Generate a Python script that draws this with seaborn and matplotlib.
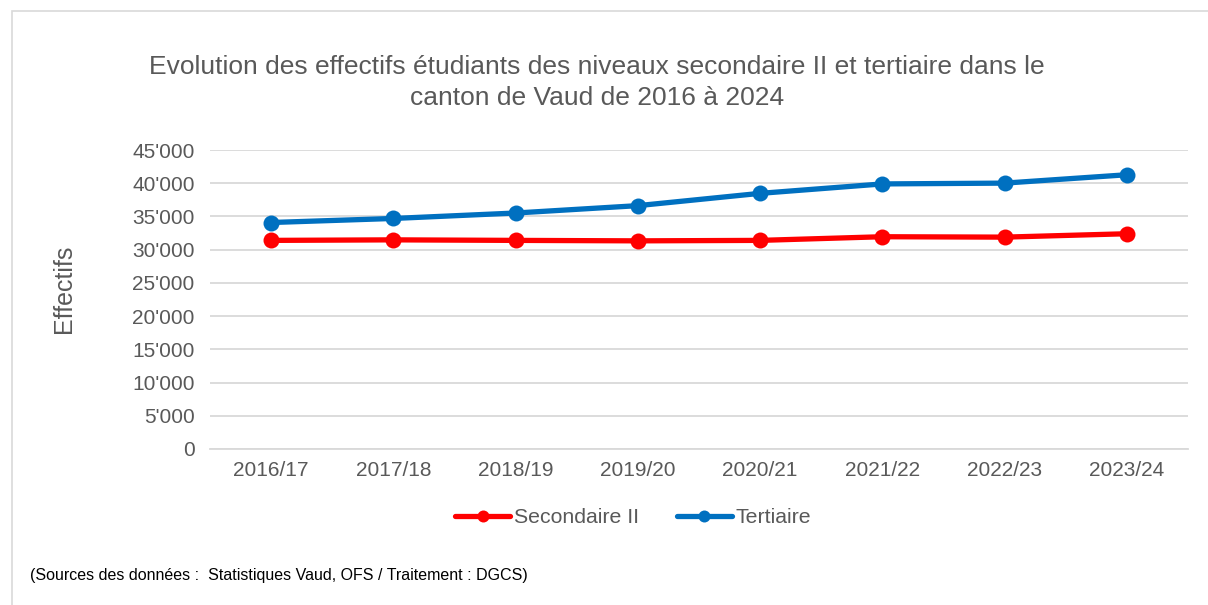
import numpy as np
import pandas as pd
import matplotlib
matplotlib.use("Agg")
import matplotlib.pyplot as plt
import seaborn as sns
from matplotlib.ticker import FuncFormatter, MultipleLocator
from matplotlib.patches import Rectangle

# Data
years = ["2016/17", "2017/18", "2018/19", "2019/20",
         "2020/21", "2021/22", "2022/23", "2023/24"]
secondaire = [31400, 31480, 31400, 31330, 31400, 31950, 31890, 32400]
tertiaire = [34090, 34700, 35520, 36630, 38480, 39900, 40020, 41280]
series_names = ["Secondaire II", "Tertiaire"]
colors = ["#FF0000", "#0070C0"]

df = pd.DataFrame({
    "Année": years * 2,
    "Effectifs": secondaire + tertiaire,
    "Niveau": [series_names[0]] * len(years) + [series_names[1]] * len(years),
})

sns.set_theme(style="white")
plt.rcParams["font.family"] = ["Liberation Sans", "DejaVu Sans"]
grey = "#595959"

fig = plt.figure(figsize=(12.08, 6.05), dpi=100)
ax = fig.add_axes([0.1738, 0.2579, 0.8096, 0.4941])

sns.lineplot(data=df, x="Année", y="Effectifs", hue="Niveau",
             palette=dict(zip(series_names, colors)), marker="o",
             markersize=11.5, markeredgewidth=0, linewidth=3.8,
             sort=False, ax=ax)

ax.set_xlim(-0.5, len(years) - 0.5)
ax.set_ylim(0, 45000)
ax.yaxis.set_major_locator(MultipleLocator(5000))
ax.yaxis.set_major_formatter(FuncFormatter(lambda v, p: f"{v:,.0f}".replace(",", "'")))
ax.grid(axis="y", color="#D9D9D9", linewidth=1.3)
ax.set_axisbelow(True)
for s in ["top", "right", "left"]:
    ax.spines[s].set_visible(False)
ax.spines["bottom"].set_color("#D9D9D9")
ax.spines["bottom"].set_linewidth(1.3)
ax.tick_params(axis="both", length=0, labelsize=15, colors=grey)
ax.tick_params(axis="y", pad=11)
ax.tick_params(axis="x", pad=9)
ax.set_xlabel("")
ax.set_ylabel("Effectifs", fontsize=18, color=grey)
ax.yaxis.set_label_coords(-0.137, 0.535)

leg = ax.legend(loc="center", bbox_to_anchor=(0.524, 0.144),
                bbox_transform=fig.transFigure, ncol=2, frameon=False,
                fontsize=15.3, handlelength=2.6, handletextpad=0.15,
                columnspacing=1.8, markerscale=0.75)
for t in leg.get_texts():
    t.set_color(grey)

fig.text(0.494, 0.863,
         "Evolution des effectifs étudiants des niveaux secondaire II et tertiaire dans le\ncanton de Vaud de 2016 à 2024",
         ha="center", va="center", fontsize=19, color=grey, linespacing=1.38)
fig.text(0.025, 0.049,
         "(Sources des données :  Statistiques Vaud, OFS / Traitement : DGCS)",
         ha="left", va="center", fontsize=11.5, color="#000000")

fig.patches.append(Rectangle((12 / 1208, -0.1), 1.1, 1 - 11 / 605 + 0.1,
                             transform=fig.transFigure, fill=False,
                             edgecolor="#D9D9D9", linewidth=1.2))

fig.savefig("out.png", dpi=100)
